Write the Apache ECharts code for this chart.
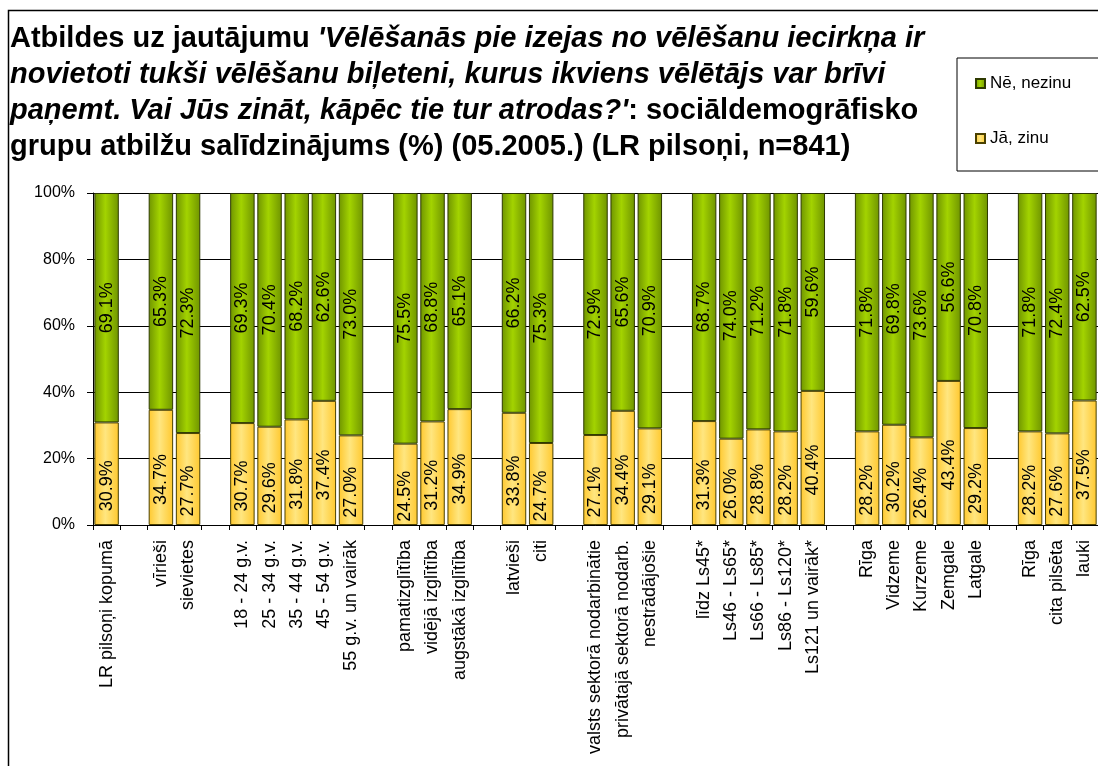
<!DOCTYPE html>
<html>
<head>
<meta charset="utf-8">
<script src="https://cdn.jsdelivr.net/npm/echarts@6/dist/echarts.min.js"></script>
<style>
  html, body { margin: 0; padding: 0; background: #fff; overflow: hidden; }
  #main { width: 1098px; height: 766px; }
</style>
</head>
<body>
<div id="main"></div>
<script>
const categories = [
  "LR pilsoņi kopumā", "",
  "vīrieši", "sievietes", "",
  "18 - 24 g.v.", "25 - 34 g.v.", "35 - 44 g.v.", "45 - 54 g.v.", "55 g.v. un vairāk", "",
  "pamatizglītība", "vidējā izglītība", "augstākā izglītība", "",
  "latvieši", "citi", "",
  "valsts sektorā nodarbinātie", "privātajā sektorā nodarb.", "nestrādājošie", "",
  "līdz Ls45*", "Ls46 - Ls65*", "Ls66 - Ls85*", "Ls86 - Ls120*", "Ls121 un vairāk*", "",
  "Rīga", "Vidzeme", "Kurzeme", "Zemgale", "Latgale", "",
  "Rīga", "cita pilsēta", "lauki"
];

// Jā, zinu
const yesValues = [
  30.9, null,
  34.7, 27.7, null,
  30.7, 29.6, 31.8, 37.4, 27.0, null,
  24.5, 31.2, 34.9, null,
  33.8, 24.7, null,
  27.1, 34.4, 29.1, null,
  31.3, 26.0, 28.8, 28.2, 40.4, null,
  28.2, 30.2, 26.4, 43.4, 29.2, null,
  28.2, 27.6, 37.5
];

// Nē, nezinu
const noValues = [
  69.1, null,
  65.3, 72.3, null,
  69.3, 70.4, 68.2, 62.6, 73.0, null,
  75.5, 68.8, 65.1, null,
  66.2, 75.3, null,
  72.9, 65.6, 70.9, null,
  68.7, 74.0, 71.2, 71.8, 59.6, null,
  71.8, 69.8, 73.6, 56.6, 70.8, null,
  71.8, 72.4, 62.5
];

const seriesNames = ["Nē, nezinu", "Jā, zinu"];

const font = 'Arial, "Liberation Sans", sans-serif';

function shade(edge, mid) {
  return {
    type: "linear", x: 0, y: 0, x2: 1, y2: 0,
    colorStops: [
      { offset: 0, color: edge },
      { offset: 0.45, color: mid },
      { offset: 1, color: edge }
    ]
  };
}

const greenFill = shade("#6f9400", "#a3d300");
const yellowFill = shade("#ffc82e", "#ffe680");

// labels are rotated, so offset[0] moves them along the bar (negative = down)
const labelStyle = {
  show: true,
  position: "inside",
  rotate: 90,
  fontFamily: font,
  fontSize: 18,
  color: "#000",
  formatter: (p) => p.value.toFixed(1) + "%"
};

const myChart = echarts.init(document.getElementById("main"));

myChart.setOption({
  animation: false,
  title: {
    left: 10,
    top: 21,
    padding: 0,
    text:
      "{b|Atbildes uz jautājumu }{i|'Vēlēšanās pie izejas no vēlēšanu iecirkņa ir}\n" +
      "{i|novietoti tukši vēlēšanu biļeteni, kurus ikviens vēlētājs var brīvi}\n" +
      "{i|paņemt. Vai Jūs zināt, kāpēc tie tur atrodas?'}{b|: sociāldemogrāfisko}\n" +
      "{b|grupu atbilžu salīdzinājums (%) (05.2005.) (LR pilsoņi, n=841)}",
    textStyle: {
      fontFamily: font,
      fontSize: 29,
      fontWeight: "bold",
      color: "#000",
      lineHeight: 36,
      rich: {
        b: { fontFamily: font, fontSize: 29, fontWeight: "bold", color: "#000", lineHeight: 36 },
        i: { fontFamily: font, fontSize: 29, fontWeight: "bold", fontStyle: "italic", color: "#000", lineHeight: 36 }
      }
    }
  },
  legend: {
    orient: "vertical",
    left: 957,
    top: 58,
    data: seriesNames,
    itemWidth: 9,
    itemHeight: 9,
    itemGap: 38,
    padding: [17, 40, 24, 18],
    borderColor: "#000",
    borderWidth: 1,
    icon: "rect",
    textStyle: { fontFamily: font, fontSize: 17, color: "#000" }
  },
  graphic: [
    {
      type: "rect",
      left: 6,
      top: 8,
      shape: { width: 1200, height: 900 },
      style: { fill: null, stroke: "#000", lineWidth: 1.5 },
      silent: true
    }
  ],
  grid: {
    left: 93,
    top: 193,
    width: 1017,
    height: 332
  },
  xAxis: {
    type: "category",
    data: categories,
    axisLine: { lineStyle: { color: "#000", width: 1 } },
    axisTick: { show: true, interval: 0, length: 5, lineStyle: { color: "#000" } },
    axisLabel: {
      interval: 0,
      rotate: 90,
      margin: 15,
      fontFamily: font,
      fontSize: 18,
      color: "#000"
    }
  },
  yAxis: {
    type: "value",
    min: 0,
    max: 100,
    interval: 20,
    axisLine: { show: true, lineStyle: { color: "#000" } },
    axisTick: { show: true, length: 6, lineStyle: { color: "#000" } },
    axisLabel: {
      formatter: "{value}%",
      margin: 18,
      fontFamily: font,
      fontSize: 16,
      color: "#000"
    },
    splitLine: { lineStyle: { color: "#000", width: 1 } }
  },
  series: [
    {
      name: "Jā, zinu",
      type: "bar",
      stack: "total",
      data: yesValues,
      barCategoryGap: "10%",
      itemStyle: { color: yellowFill, borderColor: "#4a4000", borderWidth: 1 },
      label: Object.assign({}, labelStyle, { offset: [-12, 0] })
    },
    {
      name: "Nē, nezinu",
      type: "bar",
      stack: "total",
      data: noValues,
      barCategoryGap: "10%",
      itemStyle: { color: greenFill, borderColor: "#2e3a00", borderWidth: 1 },
      label: Object.assign({}, labelStyle)
    }
  ],
  color: ["#99cc00", "#ffcc00"]
});
</script>
</body>
</html>
